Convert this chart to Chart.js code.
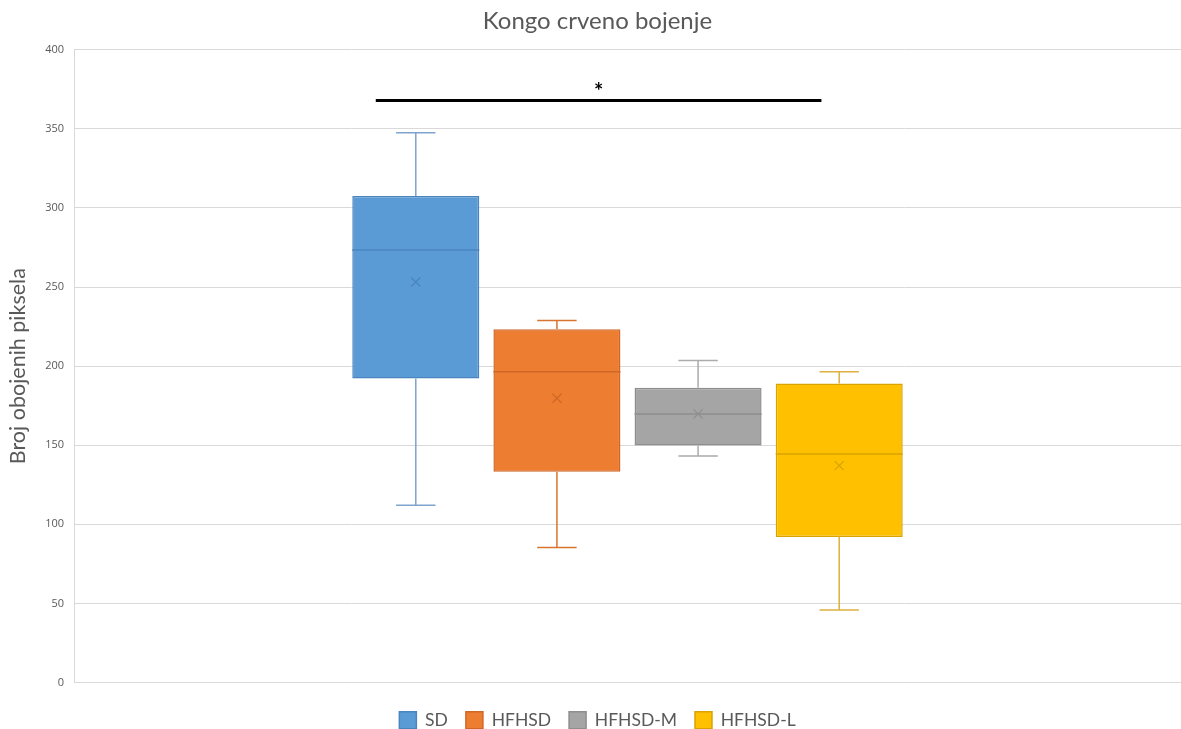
<!DOCTYPE html>
<html><head><meta charset="utf-8">
<script src="https://cdn.jsdelivr.net/npm/chart.js@4/dist/chart.umd.min.js"></script>
<style>html,body{margin:0;padding:0;background:#fff;overflow:hidden}canvas{display:block}</style>
</head><body>
<canvas id="c" width="1181" height="729"></canvas>
<script>
const categories = [''];
const seriesNames = ['SD', 'HFHSD', 'HFHSD-M', 'HFHSD-L'];
const minValues    = [112.0,  85.4, 143.2,  45.8];
const q1Values     = [192.2, 133.3, 149.8,  92.0];
const medianValues = [273.4, 196.4, 169.8, 144.5];
const q3Values     = [307.6, 223.4, 186.3, 189.0];
const maxValues    = [347.5, 228.9, 203.6, 196.4];
const meanValues   = [253.2, 179.7, 169.8, 137.1];
const yTickMin = 0, yTickMax = 400, yTickStep = 50;
const significanceFrom = 0, significanceTo = 3, significanceValue = 368, significanceLabel = '*';

const chartTitle = 'Kongo crveno bojenje';
const yAxisTitle = 'Broj obojenih piksela';

const fillColors    = ['#5B9BD5', '#ED7D31', '#A5A5A5', '#FFC000'];
const borderColors  = ['#4A84BE', '#CF6826', '#8E8E8E', '#D9A300'];
const whiskerColors = ['#7EA4CD', '#D9742F', '#ABABAB', '#DDB040'];

const datasets = seriesNames.map((name, i) => ({
  label: name,
  data: [[q1Values[i], q3Values[i]]],
  backgroundColor: fillColors[i],
  borderColor: borderColors[i],
  borderWidth: 1.5,
  borderSkipped: false,
  categoryPercentage: 0.51,
  barPercentage: 0.9
}));

const boxPlotPlugin = {
  id: 'boxplot',
  afterDatasetsDraw(chart) {
    const ctx = chart.ctx, ys = chart.scales.y;
    ctx.save();
    chart.data.datasets.forEach((ds, i) => {
      const meta = chart.getDatasetMeta(i);
      if (meta.hidden) return;
      const bar = meta.data[0];
      const x = bar.x, w = bar.width, half = w / 2, cap = w * 0.155;
      const pMin = ys.getPixelForValue(minValues[i]);
      const pQ1 = ys.getPixelForValue(q1Values[i]);
      const pMed = ys.getPixelForValue(medianValues[i]);
      const pQ3 = ys.getPixelForValue(q3Values[i]);
      const pMax = ys.getPixelForValue(maxValues[i]);
      const pMean = ys.getPixelForValue(meanValues[i]);
      ctx.strokeStyle = whiskerColors[i];
      ctx.lineWidth = 1.5;
      ctx.beginPath();
      ctx.moveTo(x, pQ3); ctx.lineTo(x, pMax);
      ctx.moveTo(x - cap, pMax); ctx.lineTo(x + cap, pMax);
      ctx.moveTo(x, pQ1); ctx.lineTo(x, pMin);
      ctx.moveTo(x - cap, pMin); ctx.lineTo(x + cap, pMin);
      ctx.stroke();
      ctx.strokeStyle = borderColors[i];
      ctx.lineWidth = 1.5;
      ctx.beginPath();
      ctx.moveTo(x - half, pMed); ctx.lineTo(x + half, pMed);
      ctx.stroke();
      const m = 4.5;
      ctx.lineWidth = 1.2;
      ctx.beginPath();
      ctx.moveTo(x - m, pMean - m); ctx.lineTo(x + m, pMean + m);
      ctx.moveTo(x + m, pMean - m); ctx.lineTo(x - m, pMean + m);
      ctx.stroke();
    });
    const b0 = chart.getDatasetMeta(significanceFrom).data[0];
    const b1 = chart.getDatasetMeta(significanceTo).data[0];
    const x1 = b0.x - b0.width * 0.315, x2 = b1.x - b1.width * 0.14;
    const py = ys.getPixelForValue(significanceValue);
    ctx.strokeStyle = '#000';
    ctx.lineWidth = 3;
    ctx.beginPath();
    ctx.moveTo(x1, py); ctx.lineTo(x2, py);
    ctx.stroke();
    ctx.fillStyle = '#000';
    ctx.font = 'bold 22px Lato';
    ctx.textAlign = 'center';
    ctx.textBaseline = 'middle';
    ctx.fillText(significanceLabel, (x1 + x2) / 2, py - 9);
    ctx.restore();
  }
};

new Chart(document.getElementById('c'), {
  type: 'bar',
  data: { labels: categories, datasets },
  options: {
    responsive: false,
    animation: false,
    devicePixelRatio: 1,
    layout: { padding: { left: 14, right: 0, top: 0, bottom: -10 } },
    plugins: {
      title: {
        display: true, text: chartTitle,
        color: '#595959', font: { family: 'Lato', size: 24, weight: 'normal' },
        padding: { top: 7, bottom: 14 }
      },
      legend: {
        position: 'bottom',
        labels: {
          color: '#595959', font: { family: 'Lato', size: 17.5 },
          boxWidth: 17, boxHeight: 17, padding: 18
        }
      },
      tooltip: { enabled: false }
    },
    scales: {
      x: {
        display: true,
        grid: { display: false }, border: { display: false },
        ticks: { display: false },
        afterFit(s) { s.height = 11; }
      },
      y: {
        min: yTickMin, max: yTickMax,
        ticks: { stepSize: yTickStep, color: '#595959', font: { family: 'Open Sans', size: 11 }, padding: 10 },
        grid: { color: '#D9D9D9', drawTicks: false },
        border: { display: true, color: '#D9D9D9' },
        title: {
          display: true, text: yAxisTitle, color: '#595959',
          font: { family: 'Lato', size: 21.5 }, padding: { top: -9, bottom: 0 }
        },
        afterFit(s) { s.width = 60; }
      }
    }
  },
  plugins: [boxPlotPlugin]
});
</script>
</body></html>
